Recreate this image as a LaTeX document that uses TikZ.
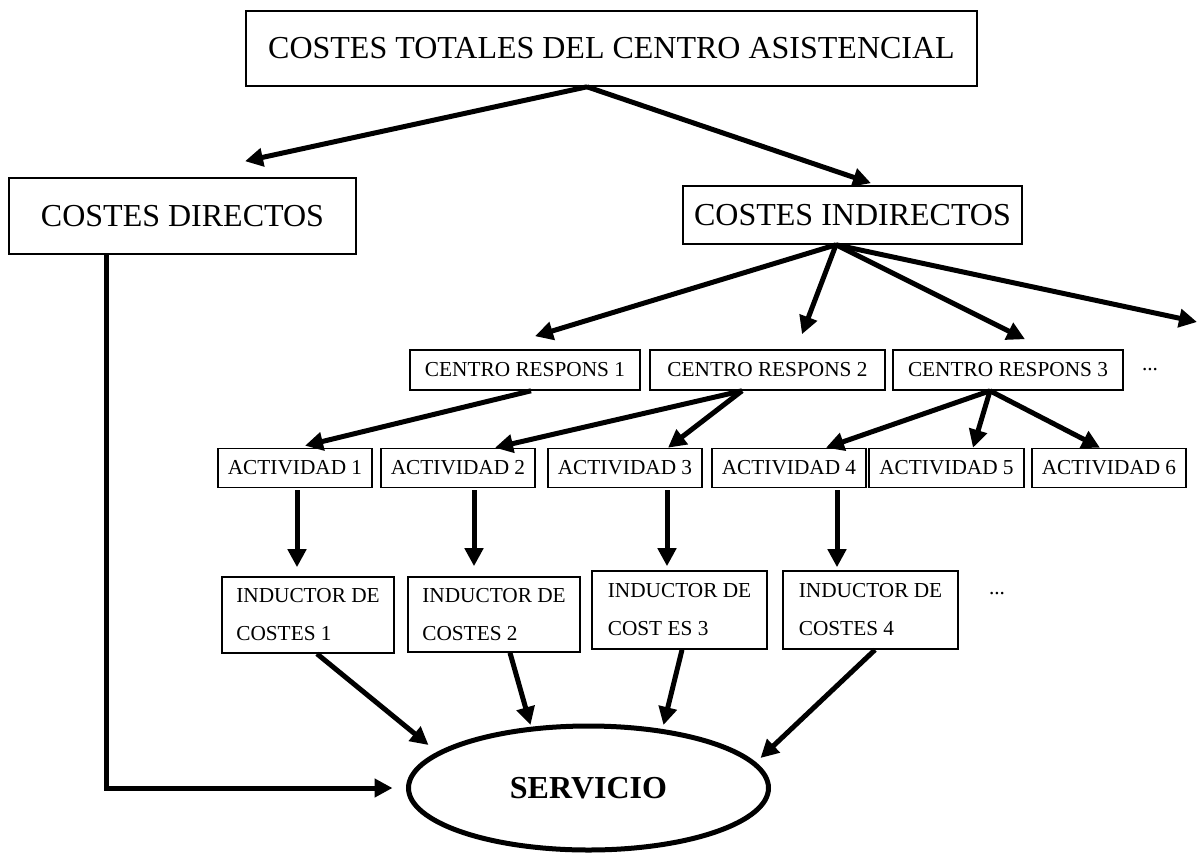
\documentclass[tikz,border=0pt]{standalone}
\usepackage{fontspec}
\setmainfont{Liberation Serif}
\usetikzlibrary{arrows.meta, calc, shapes.geometric}

\begin{document}
\begin{tikzpicture}[x=0.5pt, y=-0.5pt, line width=0.8pt,
    bigbox/.style={draw, inner sep=0pt, font=\fontsize{16}{19}\selectfont},
    smallbox/.style={draw, inner sep=0pt, font=\fontsize{10.65}{13}\selectfont},
    arr/.style={-{Triangle[length=9pt, width=9pt]}, line width=2.5pt}]
  \useasboundingbox (0,0) rectangle (1199,857);
  % top levels
  \node[bigbox, minimum width=365.5pt, minimum height=37.5pt] (total)
    at (611.5,48.5) {COSTES TOTALES DEL CENTRO ASISTENCIAL};
  \node[bigbox, minimum width=173.5pt, minimum height=38pt] (dir)
    at (182.5,216) {COSTES DIRECTOS};
  \node[bigbox, minimum width=169.5pt, minimum height=29pt] (indir)
    at (852.5,215) {COSTES INDIRECTOS};
  % centros de responsabilidad
  \foreach \i/\x/\w in {1/525/115, 2/767.5/117.5, 3/1008/115}
    \node[smallbox, minimum width=\w pt, minimum height=20pt] (cr\i)
      at (\x,370) {CENTRO RESPONS \i};
  \node[font=\fontsize{10.65}{13}\selectfont] (dots1) at (1150,370) {...};
  % actividades
  \foreach \i/\x/\w in {1/295/77, 2/458/77, 3/625/77, 4/789/77,
                        5/946.5/77.5, 6/1109/77}
    \node[smallbox, minimum width=\w pt, minimum height=19.5pt] (act\i)
      at (\x,468) {ACTIVIDAD \i};
  % inductores
  \foreach \i/\x/\y/\w/\h/\txt in {1/308/615/86/38/COSTES 1,
                                   2/494/614.5/86/37.5/COSTES 2,
                                   3/679.5/610/87.5/39/COST ES 3,
                                   4/870.5/610/87.5/39/COSTES 4}
    \node[smallbox, align=left, font=\fontsize{10.65}{19}\selectfont,
          minimum width=\w pt, minimum height=\h pt] (ind\i)
      at (\x,\y) {INDUCTOR DE\\\txt};
  \node[font=\fontsize{10.65}{13}\selectfont] (dots2) at (997,594) {...};
  \node[ellipse, draw, line width=2.5pt, minimum width=180pt,
        minimum height=62pt, inner sep=0pt,
        font=\bfseries\fontsize{16}{19}\selectfont] (serv)
    at (588.5,788) {SERVICIO};

  % connectors
  \coordinate (split) at ($(total.south)+(-24.5,0)$);
  \draw[arr] (split) -- ($(dir.north)+(62.5,-16)$);
  \draw[arr] (split) -- ($(indir.north)+(18.5,-2)$);
  \draw[arr, line join=miter] ($(dir.south)+(-76.5,0)$) |- ($(serv.west)+(-13.5,0)$);
  \coordinate (fan) at ($(indir.south)+(-16.5,0)$);
  \coordinate (more) at (1197,322);
  \draw[arr] (fan) -- ($(cr1.north)+(10,-13)$);
  \draw[arr] (fan) -- ($(cr2.north)+(34.5,-15)$);
  \draw[arr] (fan) -- ($(cr3.north)+(17,-10)$);
  \draw[arr] (fan) -- (more);
  \draw[arr] ($(cr1.south)+(6,0)$) -- ($(act1.north)+(10,-2)$);
  \coordinate (cr2out) at ($(cr2.south)+(-25.5,0)$);
  \draw[arr] (cr2out) -- ($(act2.north)+(37,0)$);
  \draw[arr] (cr2out) -- ($(act3.north)+(43,0)$);
  \coordinate (cr3out) at ($(cr3.south)+(-18,0)$);
  \draw[arr] (cr3out) -- ($(act4.north)+(37,0)$);
  \draw[arr] (cr3out) -- ($(act5.north)+(26.5,0)$);
  \draw[arr] (cr3out) -- ($(act6.north)+(-9,0)$);
  \foreach \i/\dx/\dy in {1/2/9, 2/16/10, 3/42/4, 4/48/3}
    \draw[arr] ($(act\i.south)+(\dx,2)$) -- ($(act\i.south |- ind\i.north)+(\dx,-\dy)$);
  \foreach \i/\dx/\tx/\ty in {1/9/-160/-43, 2/16/-58/-63, 3/2.5/75/-63, 4/4.5/172/-30}
    \draw[arr] ($(ind\i.south)+(\dx,0)$) -- ($(serv.center)+(\tx,\ty)$);
\end{tikzpicture}
\end{document}
